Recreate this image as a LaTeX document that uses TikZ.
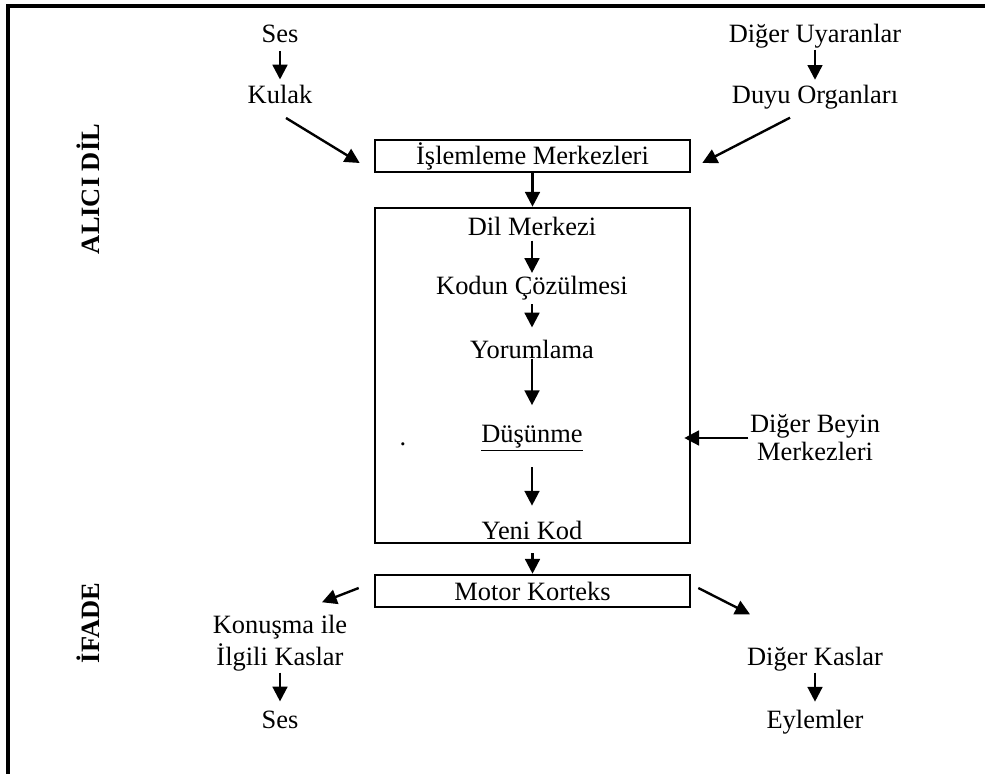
\documentclass[tikz,border=0pt]{standalone}
\usepackage{fontspec}
\setmainfont{Liberation Serif}
\usetikzlibrary{arrows.meta}

\tikzset{
  yazi/.style={font=\fontsize{18.8}{21}\selectfont, inner sep=1pt, align=center},
  kutu/.style={draw, line width=1.8pt, minimum width=7.875cm, minimum height=0.8cm,
    inner sep=0pt, font=\fontsize{18.8}{21}\selectfont},
  baslik/.style={font=\fontsize{18.8}{21}\selectfont\bfseries, rotate=90},
  ok/.style={-{Triangle[length=10.5pt,width=10.5pt]}, line width=1.7pt}
}

\begin{document}
\begin{tikzpicture}[x=0.025cm,y=-0.025cm]
    \useasboundingbox (0,0) rectangle (985,774);

    % Cerceve
    \draw[line width=2.2pt] (8,774) -- (8,6) -- (985,6);

    % Basliklar
    \node[baslik] (alici) at (88,189) {ALICI DİL};
    \node[baslik] (ifade) at (88,623) {İFADE};

    % Uyaranlar
    \node[yazi] (ses1) at (280,34) {Ses};
    \node[yazi] (kulak) at (280,94) {Kulak};
    \node[yazi] (uyaran) at (815,36) {Diğer Uyaranlar};
    \node[yazi] (duyu) at (815,97) {Duyu Organları};
    \draw[ok, shorten <=4.5pt, shorten >=2.5pt] (ses1) -- (kulak);
    \draw[ok, shorten >=2.5pt] (uyaran) -- (duyu);

    % Islemleme
    \node[kutu] (islem) at (532.5,156) {İşlemleme Merkezleri};
    \draw[ok] ([shift={(6,13)}]kulak.south) -- ([shift={(-14,7)}]islem.west);
    \draw[ok] ([shift={(-25,7)}]duyu.south) -- ([shift={(11,7)}]islem.east);

    % Dil merkezi kutusu
    \node[kutu, minimum height=8.375cm] (dilkutu) at (532.5,375.5) {};
    \draw[ok] (islem.south) -- (dilkutu.north);

    \node[yazi] (dilm) at (532,226) {Dil Merkezi};
    \node[yazi] (kod) at (532,288) {Kodun Çözülmesi};
    \node[yazi] (yorum) at (532,349) {Yorumlama};
    \node[yazi] (dusun) at (532,438) {\underline{Düşünme}};
    \node[yazi] (yeni) at (532,530) {Yeni Kod};
    \node[yazi] (nokta) at (403,444) {.};
    \draw[ok, shorten <=2.5pt, shorten >=1pt] (dilm) -- (kod);
    \draw[ok, shorten <=2pt, shorten >=7.5pt] (kod) -- (yorum);
    \draw[ok, shorten <=-1pt, shorten >=13pt] (yorum) -- (dusun);
    \draw[ok, shorten <=10.5pt, shorten >=9.5pt] (dusun) -- (yeni);

    % Diger beyin merkezleri
    \node[yazi] (beyin) at (815,438) {Diğer Beyin\\[-1pt]Merkezleri};
    \draw[ok, shorten >=-5pt] (beyin.west) -- (beyin.west -| dilkutu.east);

    % Ifade
    \node[kutu] (motor) at (532.5,591) {Motor Korteks};
    \draw[ok, shorten <=6.4pt] (dilkutu.south) -- (motor.north);

    \node[yazi] (konusma) at (280,643) {Konuşma ile\\[1.8pt]İlgili Kaslar};
    \node[yazi] (ses2) at (280,720) {Ses};
    \node[yazi] (digerk) at (815,659) {Diğer Kaslar};
    \node[yazi] (eylem) at (815,722) {Eylemler};
    \draw[ok] ([shift={(-15,-3)}]motor.west) -- ([shift={(42,-11)}]konusma.north);
    \draw[ok] ([shift={(7,-3)}]motor.east) -- ([shift={(-65,-31)}]digerk.north);
    \draw[ok, shorten >=5.7pt] (konusma) -- (ses2);
    \draw[ok, shorten >=4.7pt] (digerk) -- (eylem);

\end{tikzpicture}
\end{document}
